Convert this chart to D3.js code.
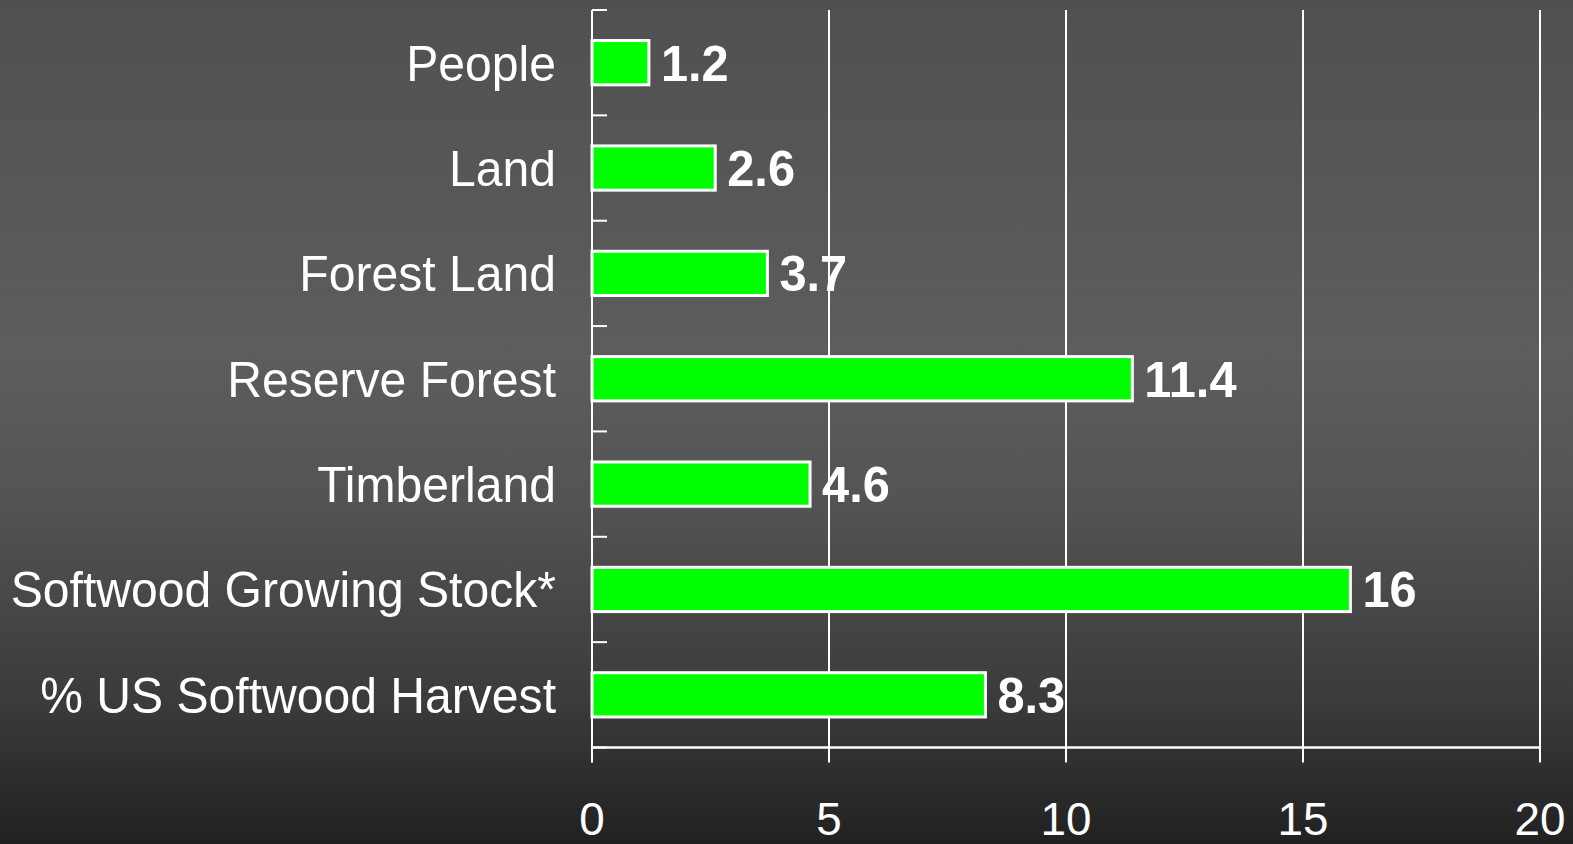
<!DOCTYPE html>
<html>
<head>
<meta charset="utf-8">
<script src="https://cdn.jsdelivr.net/npm/d3@7"></script>
<style>
  html, body { margin: 0; padding: 0; background: #2a2a2a; overflow: hidden; }
  svg { display: block; }
</style>
</head>
<body>
<script>
// Chart data
const categories = ["People", "Land", "Forest Land", "Reserve Forest", "Timberland", "Softwood Growing Stock*", "% US Softwood Harvest"];
const values = [1.2, 2.6, 3.7, 11.4, 4.6, 16, 8.3];
const xTicks = [0, 5, 10, 15, 20];

const W = 1573, H = 844;
const margin = { left: 592, right: 33, top: 10, bottom: 96 };
const fontFamily = "Arial, 'Liberation Sans', sans-serif";
const squeezeValue = 0.975; // slight horizontal condensing of text
const squeezeLabel = 0.962;

const svg = d3.select("body").append("svg").attr("width", W).attr("height", H);

// background gradient
const defs = svg.append("defs");
const grad = defs.append("linearGradient").attr("id", "bg").attr("x1", 0).attr("y1", 0).attr("x2", 0).attr("y2", 1);
[[0, "#505050"], [0.42, "#5d5d5d"], [0.6, "#535353"], [0.83, "#3b3b3b"], [1, "#212121"]]
  .forEach(([o, c]) => grad.append("stop").attr("offset", o).attr("stop-color", c));
svg.append("rect").attr("width", W).attr("height", H).attr("fill", "url(#bg)");

const plotBottom = H - margin.bottom - 0.5;
const x = d3.scaleLinear().domain([0, 20]).range([margin.left, W - margin.right]);
const y = d3.scaleBand().domain(categories).range([margin.top, plotBottom]).paddingInner(0.58).paddingOuter(0.29);
const band = d3.scaleBand().domain(categories).range([margin.top, plotBottom]);

// vertical gridlines with ticks hanging below the axis
svg.append("g").selectAll("line").data(xTicks).join("line")
  .attr("x1", d => x(d)).attr("x2", d => x(d))
  .attr("y1", margin.top).attr("y2", plotBottom + 15)
  .attr("stroke", "#ffffff").attr("stroke-width", 2);

// category axis: short inward ticks at band boundaries
const boundaries = categories.map(c => band(c)).concat([plotBottom]);
svg.append("g").selectAll("line").data(boundaries).join("line")
  .attr("x1", margin.left).attr("x2", margin.left + 15)
  .attr("y1", d => d).attr("y2", d => d)
  .attr("stroke", "#ffffff").attr("stroke-width", 2);

// value axis baseline
svg.append("line")
  .attr("x1", margin.left).attr("x2", x(20))
  .attr("y1", plotBottom).attr("y2", plotBottom)
  .attr("stroke", "#ffffff").attr("stroke-width", 2.5);

// bars
svg.append("g").selectAll("rect").data(values).join("rect")
  .attr("x", x(0))
  .attr("y", (d, i) => y(categories[i]))
  .attr("width", d => x(d) - x(0))
  .attr("height", y.bandwidth())
  .attr("fill", "#00ff00")
  .attr("stroke", "#ffffff").attr("stroke-width", 3);

// category axis line
svg.append("line")
  .attr("x1", margin.left).attr("x2", margin.left)
  .attr("y1", margin.top).attr("y2", plotBottom + 15)
  .attr("stroke", "#ffffff").attr("stroke-width", 2);

const fs = 50;

// value labels
svg.append("g").selectAll("text").data(values).join("text")
  .attr("transform", (d, i) => `translate(${x(d) + 12},${y(categories[i]) + y.bandwidth() / 2 + fs * 0.36}) scale(${squeezeValue},1)`)
  .attr("font-family", fontFamily).attr("font-weight", "bold").attr("font-size", fs)
  .attr("fill", "#ffffff")
  .text(d => d);

// category labels
svg.append("g").selectAll("text").data(categories).join("text")
  .attr("transform", c => `translate(556,${y(c) + y.bandwidth() / 2 + fs * 0.36}) scale(${squeezeLabel},1)`)
  .attr("text-anchor", "end")
  .attr("font-family", fontFamily).attr("font-size", fs)
  .attr("fill", "#ffffff")
  .text(c => c);

// value tick labels
svg.append("g").selectAll("text").data(xTicks).join("text")
  .attr("transform", d => `translate(${x(d)},835) scale(${squeezeValue},1)`)
  .attr("text-anchor", "middle")
  .attr("font-family", fontFamily).attr("font-size", 47)
  .attr("fill", "#ffffff")
  .text(d => d);
</script>
</body>
</html>
